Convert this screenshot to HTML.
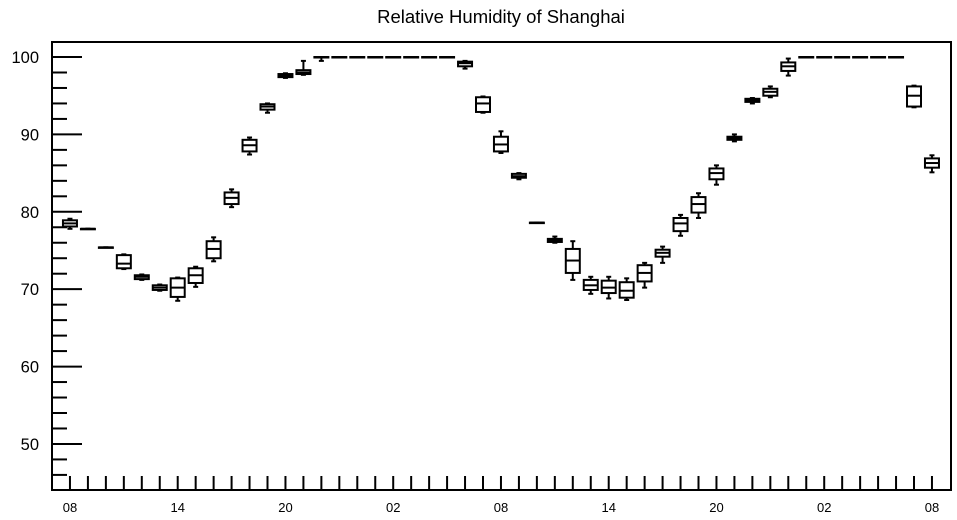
<!DOCTYPE html>
<html><head><meta charset="utf-8"><style>
html,body{margin:0;padding:0;background:#fff;}
svg{display:block;font-family:"Liberation Sans",Arial,sans-serif;}
</style></head><body>
<svg id="chart" width="957" height="520" viewBox="0 0 957 520" xmlns="http://www.w3.org/2000/svg">
<rect x="0" y="0" width="957" height="520" fill="#fff"/>
<text x="501" y="23" font-size="18.5" text-anchor="middle" fill="#000">Relative Humidity of Shanghai</text>
<g id="axes"></g>
<g id="marks"></g>
<rect x="52" y="42" width="899" height="448" fill="none" stroke="#000" stroke-width="2"/>
</svg>
<script>
const hourLabels = ["08","","","","","","14","","","","","","20","","","","","","02","","","","","","08","","","","","","14","","","","","","20","","","","","","02","","","","","","08"];
const medians = [78.5,77.8,75.4,73.3,71.6,70.2,70.2,71.8,75.2,81.8,88.6,93.6,97.6,98.0,100,100,100,100,100,100,100,100,99.2,94.0,88.7,84.6,78.6,76.3,73.7,70.5,70.2,69.8,72.1,74.7,78.5,81.0,85.0,89.5,94.4,95.5,98.8,100,100,100,100,100,100,95.0,86.3];
const q1s = [78.1,77.8,75.4,72.7,71.3,69.9,69.0,70.8,74.0,81.0,87.8,93.2,97.4,97.8,100,100,100,100,100,100,100,100,98.8,92.9,87.8,84.4,78.6,76.1,72.1,69.9,69.5,68.9,71.0,74.2,77.5,79.9,84.2,89.3,94.2,95.0,98.2,100,100,100,100,100,100,93.6,85.7];
const q3s = [78.9,77.8,75.4,74.4,71.8,70.5,71.4,72.7,76.2,82.5,89.3,93.9,97.8,98.3,100,100,100,100,100,100,100,100,99.4,94.8,89.7,84.9,78.6,76.5,75.2,71.2,71.1,70.9,73.1,75.1,79.2,81.9,85.6,89.7,94.6,95.9,99.3,100,100,100,100,100,100,96.2,86.9];
const mins = [77.8,77.8,75.4,72.6,71.2,69.8,68.5,70.3,73.6,80.6,87.4,92.8,97.3,97.7,99.5,100,100,100,100,100,100,100,98.5,92.8,87.6,84.2,78.6,76.0,71.2,69.4,68.8,68.6,70.2,73.4,76.9,79.2,83.5,89.1,94.0,94.8,97.6,100,100,100,100,100,100,93.5,85.1];
const maxs = [79.1,77.8,75.4,74.5,71.9,70.6,71.5,72.9,76.7,82.9,89.6,94.0,97.9,99.5,100,100,100,100,100,100,100,100,99.5,94.9,90.4,85.0,78.6,76.8,76.2,71.6,71.6,71.4,73.4,75.5,79.6,82.4,86.0,90.0,94.7,96.2,99.8,100,100,100,100,100,100,96.3,87.3];
const yTicks = [50,60,70,80,90,100];

const NS = "http://www.w3.org/2000/svg";
const X0 = 52, W = 899, Y0 = 42, H = 448;
const xMin = -1, xMax = 49.06, yMin = 44.05, yMax = 101.94;
function xs(i){ return X0 + (i - xMin) / (xMax - xMin) * W; }
function ys(v){ return Y0 + (yMax - v) / (yMax - yMin) * H; }
function mk(tag, attrs, parent){
  const e = document.createElementNS(NS, tag);
  for (const k in attrs) e.setAttribute(k, attrs[k]);
  parent.appendChild(e);
  return e;
}
const axes = document.getElementById("axes");
const marks = document.getElementById("marks");

// y ticks
for (let v = 46; v <= 100; v += 2) {
  const major = v % 10 === 0;
  const t = mk("line", {x1: X0, x2: X0 + (major ? 30 : 15), y1: ys(v), y2: ys(v), stroke: "#000", "stroke-width": 2}, axes);
  
  
}
yTicks.forEach(v => {
  const t = mk("text", {x: 39, y: ys(v) + 6, "font-size": 16.5, "text-anchor": "end", fill: "#000"}, axes);
  t.textContent = String(v);
  
  
});
// x ticks
hourLabels.forEach((lab, i) => {
  const x = xs(i);
  const t = mk("line", {x1: x, x2: x, y1: Y0 + H, y2: Y0 + H - 14, stroke: "#000", "stroke-width": 2}, axes);
  
  
  if (lab) {
    const tx = mk("text", {x: x, y: 512, "font-size": 13, "text-anchor": "middle", fill: "#000"}, axes);
    tx.textContent = lab;
    
    
  }
});
// candles
medians.forEach((m, i) => {
  const x = xs(i), hw = 7, cw = 2.5;
  const g = mk("g", {stroke: "#000", "stroke-width": 2, fill: "none"}, marks);
  
  
  const top = ys(q3s[i]), bot = ys(q1s[i]);
  mk("line", {x1: x, x2: x, y1: ys(maxs[i]), y2: top}, g);
  mk("line", {x1: x, x2: x, y1: bot, y2: ys(mins[i])}, g);
  mk("line", {x1: x - cw, x2: x + cw, y1: ys(maxs[i]), y2: ys(maxs[i])}, g);
  mk("line", {x1: x - cw, x2: x + cw, y1: ys(mins[i]), y2: ys(mins[i])}, g);
  mk("rect", {x: x - hw, y: top, width: 2 * hw, height: Math.max(bot - top, 0.5)}, g);
  mk("line", {x1: x - hw, x2: x + hw, y1: ys(m), y2: ys(m)}, g);
});
</script>
</body></html>
